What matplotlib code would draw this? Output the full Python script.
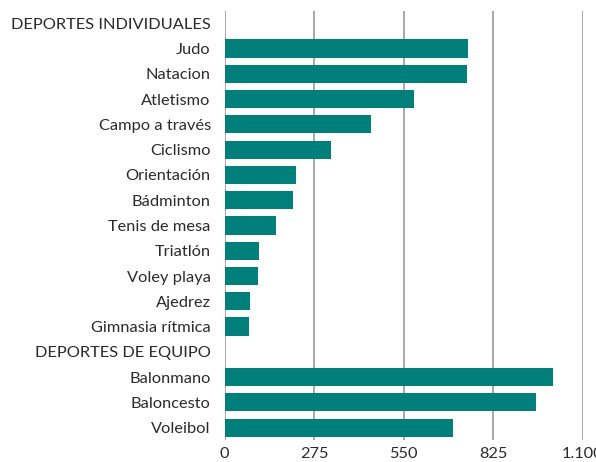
import matplotlib
matplotlib.use("Agg")
import matplotlib.pyplot as plt
import numpy as np

categories = [
    "DEPORTES INDIVIDUALES", "Judo", "Natacion", "Atletismo", "Campo a través",
    "Ciclismo", "Orientación", "Bádminton", "Tenis de mesa", "Triatlón",
    "Voley playa", "Ajedrez", "Gimnasia rítmica",
    "DEPORTES DE EQUIPO", "Balonmano", "Baloncesto", "Voleibol",
]
values = [
    None, 747, 744, 581, 450,
    327, 220, 211, 159, 106,
    102, 78, 75,
    None, 1009, 958, 703,
]
xticks = [0, 275, 550, 825, 1100]
xtick_labels = ["0", "275", "550", "825", "1.100"]

plt.rcParams["font.family"] = ["Lato", "DejaVu Sans"]

fig = plt.figure(figsize=(5.96, 4.62), dpi=100)
ax = fig.add_axes([0.377, 0.047, 0.6005, 0.930])

y = np.arange(len(categories))
for yi, v in zip(y, values):
    if v is not None:
        ax.barh(yi, v, height=0.72, color="#007f7b", zorder=3)

ax.set_xlim(0, 1100)
ax.set_ylim(len(categories) - 0.5, -0.5)
ax.set_xticks(xticks)
ax.set_xticklabels(xtick_labels)
ax.set_yticks(y)
ax.set_yticklabels(categories)
ax.tick_params(axis="both", length=0, labelsize=11.8, colors="#2b2b2b")
ax.tick_params(axis="y", pad=10)
ax.tick_params(axis="x", pad=5)
ax.grid(axis="x", color="#999999", linewidth=1.2, zorder=0)
for s in ax.spines.values():
    s.set_visible(False)

fig.savefig("out.png", dpi=100)
